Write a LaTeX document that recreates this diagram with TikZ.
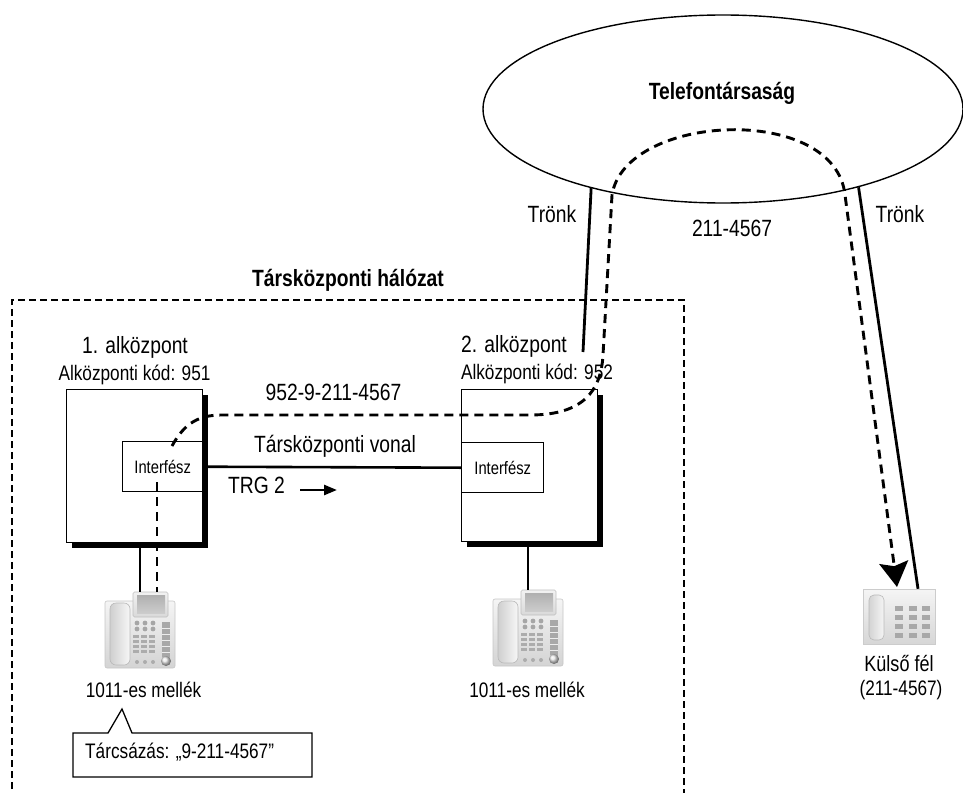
\documentclass[tikz,border=0pt]{standalone}
\usepackage{fontspec}
\setmainfont{Liberation Sans}[FakeStretch=0.82]
\usetikzlibrary{arrows.meta,shapes.geometric,shadows,calc}

\tikzset{
  % desk telephone with display, keypad and handset
  deskphone/.pic={
    \shade[top color=gray!8, bottom color=gray!34, draw=gray!45, line width=0.6pt, rounded corners=2pt] (-35,-29) rectangle (35,38);
    \shade[top color=gray!10, bottom color=gray!30, draw=gray!50, line width=0.6pt, rounded corners=1.5pt] (-7,-38) rectangle (28,-13);
    \shade[top color=gray!62, bottom color=gray!40] (-3,-35) rectangle (25,-17);
    \shade[left color=gray!38, right color=gray!6, draw=gray!55, line width=0.6pt, rounded corners=6pt] (-30,-27) rectangle (-10,35);
    \foreach \kx in {-3,5,13} {
      \fill[gray!70] (\kx,-7) circle (2.4pt);
      \fill[gray!70] (\kx,-1) circle (2.4pt);
      \fill[gray!65] (\kx,32) circle (2pt);
    }
    \foreach \kx in {-7,1,9} \foreach \ky in {5,10,15,20} \fill[gray!65] (\kx,\ky) rectangle ++(6,3.2);
    \fill[gray!68] (22,-8) rectangle (30,27);
    \foreach \ky in {-2,4,10,16,22} \draw[gray!15, line width=0.7pt] (22,\ky) -- (30,\ky);
    \shade[ball color=gray!20] (26,31) circle (5pt);
  },
  % simple analogue telephone
  plainphone/.pic={
    \shade[top color=gray!8, bottom color=gray!32, draw=gray!40, line width=0.5pt] (-36,-27.5) rectangle (36,27.5);
    \shade[left color=gray!34, right color=gray!8, draw=gray!55, line width=0.6pt, rounded corners=5pt] (-30,-21.5) rectangle (-15,23.5);
    \foreach \kx in {-4,9.5,23} \foreach \ky in {-10.5,-1.5,7.5,16.5} \fill[gray!68] (\kx,\ky) rectangle ++(8,5);
  }
}

\begin{document}
\begin{tikzpicture}[x=1pt,y=-1pt,
  lbl/.style={inner sep=0pt, anchor=base, font=\fontsize{23.5}{28}\selectfont},
  sublbl/.style={inner sep=0pt, anchor=base, font=\fontsize{21}{25}\selectfont},
  ttl/.style={inner sep=0pt, anchor=base, font=\fontsize{23.5}{28}\selectfont\bfseries},
  pbx/.style={draw, line width=1.4pt, fill=white, inner sep=0pt, anchor=north west,
    minimum width=136pt, minimum height=153pt,
    drop shadow={shadow xshift=5pt, shadow yshift=-5pt, fill=black, opacity=1}},
  ifbox/.style={draw, line width=1.4pt, fill=white, inner sep=0pt, anchor=north west,
    minimum height=50pt, font=\fontsize{18}{22}\selectfont},
  phonearea/.style={inner sep=0pt, minimum width=70pt, minimum height=76pt},
  route/.style={line width=2.9pt, dash pattern=on 9pt off 6pt},
  trunkline/.style={line width=2.8pt},
  wire/.style={line width=2.6pt},
  netbox/.style={line width=1.3pt, dash pattern=on 7pt off 4pt}
]
\useasboundingbox (0,0) rectangle (963,792);

% private network area
\draw[netbox] (12,800) -- (12,300) -- (684,300) -- (684,800);

% public telephone company
\node[ellipse, draw, line width=1.4pt, minimum width=480pt, minimum height=188pt, inner sep=0pt] (telco) at (723,109) {};

% PBX units with their interface cards
\node[pbx] (pbx1) at (66,389) {};
\node[pbx, minimum width=136pt, minimum height=152pt] (pbx2) at (461,389) {};
\node[ifbox, minimum width=80pt] (if1) at (122,441) {Interfész};
\node[ifbox, minimum width=82pt] (if2) at (461,442) {Interfész};

% telephones
\node[phonearea] (ph1) at (140,630) {};
\node[phonearea] (ph2) at (528,628) {};
\node[phonearea, minimum width=72pt, minimum height=55pt] (ext) at (899,616.5) {};
\pic at (ph1.center) {deskphone};
\pic at (ph2.center) {deskphone};
\pic at (ext.center) {plainphone};

% trunks and wiring
\coordinate (t1) at (583,352);
\draw[trunkline] (telco.211) -- (t1);
\draw[trunkline] (telco.330.6) -- (ext.north -| 918,0);
\draw[wire] (if1.east) -- (if2.west);
\draw[wire] (ph1.north) -- (ph1.north |- pbx1.south);
\draw[wire] (ph2.north) -- (ph2.north |- pbx2.south);

% TRG 2 direction arrow
\coordinate (a1) at (300,490);
\coordinate (a2) at (337,490);
\draw[wire, -{Triangle[length=13pt,width=10pt]}] (a1) -- (a2);

% call route
\coordinate (d0) at (157,482);
\draw[route] (d0) -- (d0 |- ph1.north);
\coordinate (r0) at (172,446);
\coordinate (r1) at (222,415);
\coordinate (r2) at (530,415);
\coordinate (r3) at (603,355);
\coordinate (r4) at (612,195);
\coordinate (r5) at (845,195);
\coordinate (r6) at (897,587);
\draw[route, -{Stealth[length=25pt,width=29pt,inset=4pt]}]
  (r0) .. controls (185,422) and (200,415) .. (r1) -- (r2)
  .. controls (582,415) and (601,392) .. (r3) -- (r4)
  .. controls (625,113) and (835,103) .. (r5) -- (r6);

% dialling callout
\draw[line width=1.3pt, fill=white] (73,733) -- (108,733) -- (122,709) -- (132,733) -- (312,733) -- (312,777) -- (73,777) -- cycle;
\node[sublbl, anchor=base west] (dial) at (85,758) {Tárcsázás: „9-211-4567”};

% labels
\node[ttl] (telcolbl) at (722,99) {Telefontársaság};
\node[lbl] (trunkA) at (552,222) {Trönk};
\node[lbl] (trunkB) at (900,222) {Trönk};
\node[lbl] (extnum) at (732,236) {211-4567};
\node[ttl] (nettitle) at (348,286) {Társközponti hálózat};
\node[lbl] (pbxAname) at (135,353) {1. alközpont};
\node[sublbl] (pbxAcode) at (134.5,380) {Alközponti kód: 951};
\node[lbl] (pbxBname) at (514,352) {2. alközpont};
\node[sublbl] (pbxBcode) at (537,379) {Alközponti kód: 952};
\node[lbl] (dialnum) at (333.5,400) {952-9-211-4567};
\node[lbl] (tielbl) at (335,452) {Társközponti vonal};
\node[lbl] (trglbl) at (256.5,493) {TRG 2};
\node[sublbl] (extA) at (143.5,697) {1011-es mellék};
\node[sublbl] (extB) at (527,697) {1011-es mellék};
\node[inner sep=0pt, anchor=base, font=\fontsize{22}{26}\selectfont] (farname) at (899,671) {Külső fél};
\node[sublbl] (farnum) at (901,695) {(211-4567)};
\end{tikzpicture}
\end{document}
